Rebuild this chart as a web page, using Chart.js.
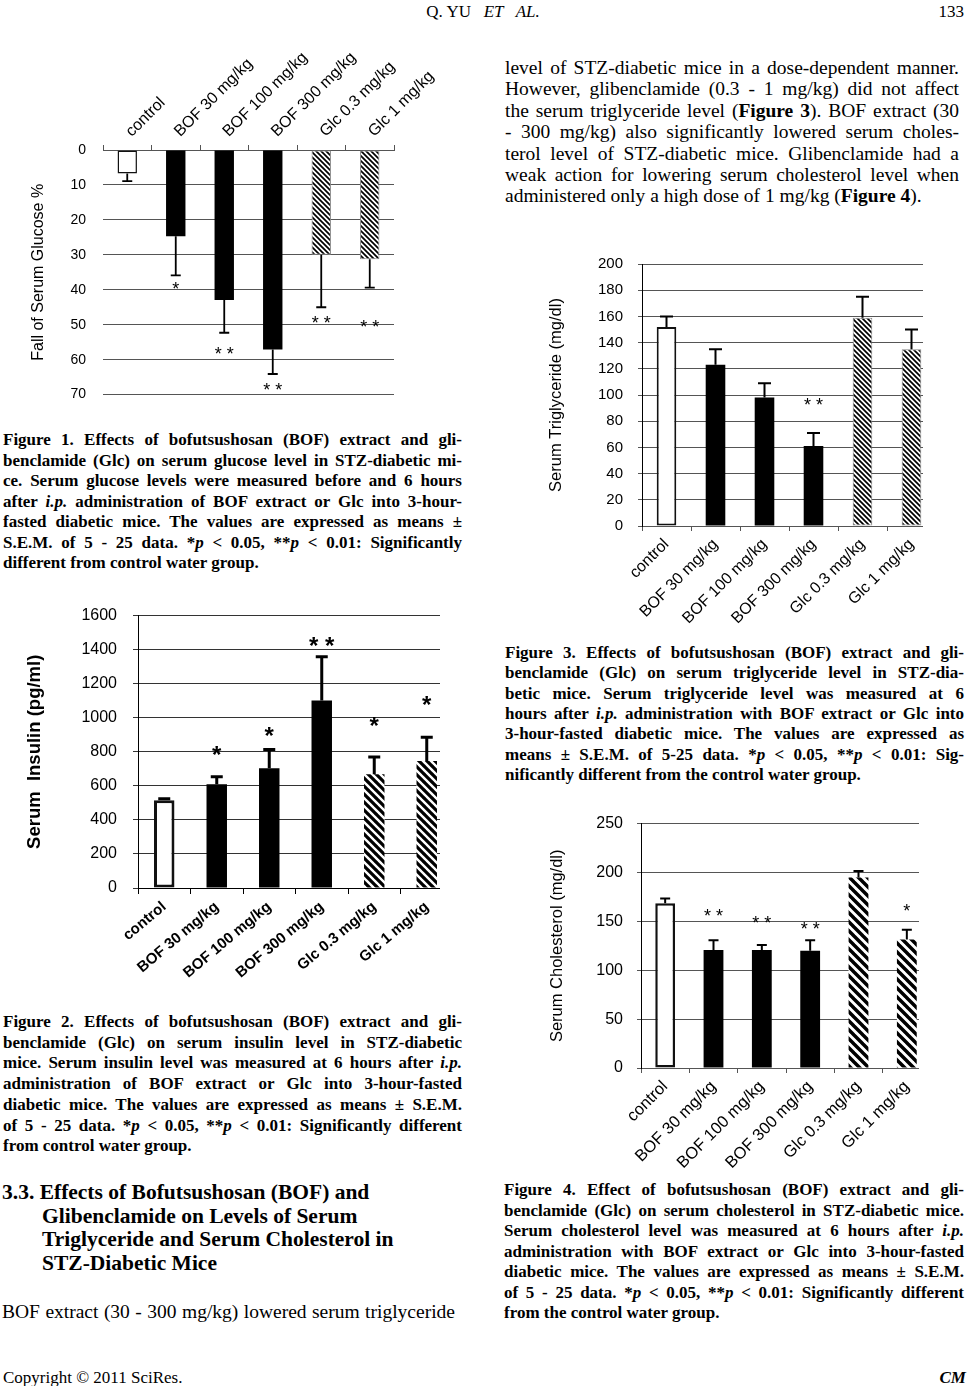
<!DOCTYPE html>
<html>
<head>
<meta charset="utf-8">
<title>BOF figures</title>
<script src="https://cdn.jsdelivr.net/npm/chart.js@4.4.1/dist/chart.umd.min.js"></script>
<style>
  html, body { margin: 0; padding: 0; background: #fff; }
  #page { position: relative; width: 968px; height: 1386px; overflow: hidden; font-family: 'Liberation Serif', 'Times New Roman', serif; color: #000; }
  .ln { position: absolute; white-space: nowrap; }
  .cap { font-size: 17px; font-weight: bold; }
  .txt { font-size: 19.5px; }
  .head { font-size: 21.5px; font-weight: bold; }
  .small { font-size: 17px; }
  .box { position: absolute; overflow: hidden; }
  .box canvas { position: absolute; left: 0; top: 0; }
</style>
</head>
<body>
<div id="page">
  <div class="box" style="left:0;top:40px;width:470px;height:380px"><canvas id="fig1" width="470" height="380"></canvas></div>
  <div class="box" style="left:0;top:590px;width:440px;height:410px"><canvas id="fig2" width="470" height="410"></canvas></div>
  <div class="box" style="left:484px;top:240px;width:439px;height:400px"><canvas id="fig3" width="484" height="400"></canvas></div>
  <div class="box" style="left:484px;top:800px;width:435px;height:380px"><canvas id="fig4" width="484" height="380"></canvas></div>
</div>
<script>
// groups, same for all four figures
const groups = ['control', 'BOF 30 mg/kg', 'BOF 100 mg/kg', 'BOF 300 mg/kg', 'Glc 0.3 mg/kg', 'Glc 1 mg/kg'];

// Figure 1 - fall of serum glucose (%)
const glucoseFall = [6.7, 24.7, 42.9, 57.1, 30.0, 31.3];
const glucoseSem = [2.2, 11.2, 9.4, 7.0, 15.0, 8.1];
const glucoseSig = ['', '*', '* *', '* *', '* *', '* *'];
const glucoseSigAt = [0, 38.6, 57.1, 67.3, 48.3, 49.3];
const glucoseTicks = [0, 10, 20, 30, 40, 50, 60, 70];

// Figure 2 - serum insulin (pg/ml)
const insulin = [515, 609, 703, 1101, 668, 746];
const insulinSem = [9, 44, 111, 257, 101, 139];
const insulinSig = ['', '*', '*', '* *', '*', '*'];
const insulinSigAt = [0, 818, 928, 1458, 983, 1107];
const insulinTicks = [0, 200, 400, 600, 800, 1000, 1200, 1400, 1600];

// Figure 3 - serum triglyceride (mg/dl)
const triglyceride = [152, 123, 98, 61, 159, 135];
const triglycerideSem = [8, 12, 11, 10, 16, 15];
const triglycerideSig = ['', '', '', '* *', '', ''];
const triglycerideSigAt = [0, 0, 0, 96, 0, 0];
const triglycerideTicks = [0, 20, 40, 60, 80, 100, 120, 140, 160, 180, 200];

// Figure 4 - serum cholesterol (mg/dl)
const cholesterol = [168.5, 120.6, 120.6, 120, 194.8, 131.5];
const cholesterolSem = [5, 10.2, 5.2, 10.8, 6.6, 9.8];
const cholesterolSig = ['', '* *', '* *', '* *', '', '*'];
const cholesterolSigAt = [0, 160.3, 153.1, 146.5, 0, 165.3];
const cholesterolTicks = [0, 50, 100, 150, 200, 250];

Chart.defaults.font.family = "'Liberation Sans', Arial, sans-serif";
Chart.defaults.color = '#000';

function hatch(ctx, size, lw) {
  const c = document.createElement('canvas');
  c.width = c.height = size;
  const g = c.getContext('2d');
  g.fillStyle = '#fff';
  g.fillRect(0, 0, size, size);
  g.strokeStyle = '#000';
  g.lineWidth = lw;
  g.beginPath();
  for (const o of [-size, 0, size]) { g.moveTo(o - 1, -1); g.lineTo(o + size + 1, size + 1); }
  g.stroke();
  return ctx.createPattern(c, 'repeat');
}

// error bars (one sided) and significance stars
const errorStars = {
  id: 'errorStars',
  afterDatasetsDraw(chart) {
    const ds = chart.data.datasets[0];
    const y = chart.scales.y;
    const ctx = chart.ctx;
    ctx.save();
    ctx.strokeStyle = '#000';
    ctx.lineWidth = ds.errWidth;
    chart.getDatasetMeta(0).data.forEach((bar, i) => {
      const x = bar.x;
      const y0 = y.getPixelForValue(ds.data[i]);
      const y1 = y.getPixelForValue(ds.data[i] + ds.sem[i]);
      ctx.beginPath();
      ctx.moveTo(x, y0); ctx.lineTo(x, y1);
      ctx.moveTo(x - ds.cap, y1); ctx.lineTo(x + ds.cap, y1);
      ctx.stroke();
      if (ds.sig[i]) {
        ctx.font = ds.sigFont;
        ctx.fillStyle = '#000';
        ctx.textAlign = 'center';
        ctx.textBaseline = 'alphabetic';
        ctx.fillText(ds.sig[i], x, y.getPixelForValue(ds.sigAt[i]) + ds.sigSize * 0.575);
      }
    });
    ctx.restore();
  }
};

function figure(id, o) {
  const canvas = document.getElementById(id);
  const ctx = canvas.getContext('2d');
  const pat = hatch(ctx, o.hatch[0], o.hatch[1]);
  const fills = groups.map((g, i) => i === 0 ? '#fff' : i < 4 ? '#000' : pat);
  const borders = groups.map((g, i) => i === 0 ? '#111' : i < 4 ? '#000' : '#888');
  const widths = groups.map((g, i) => i === 0 ? o.ctrlBorder : i < 4 ? 0 : o.hatchBorder);
  return new Chart(canvas, {
    type: 'bar',
    data: {
      labels: groups,
      datasets: [{
        data: o.values,
        backgroundColor: fills,
        borderColor: borders,
        borderWidth: widths,
        borderSkipped: false,
        barPercentage: o.barPct,
        categoryPercentage: 1,
        sem: o.sem, sig: o.sig, sigAt: o.sigAt,
        sigFont: o.sigFont, sigSize: o.sigSize,
        errWidth: o.errWidth, cap: o.cap
      }]
    },
    options: {
      responsive: false,
      animation: false,
      layout: { padding: o.pad },
      plugins: { legend: { display: false }, tooltip: { enabled: false } },
      scales: {
        x: {
          position: o.xPos,
          grid: { drawOnChartArea: false, tickLength: o.xTick, color: o.axisColor },
          border: { color: o.axisColor },
          ticks: { autoSkip: false, minRotation: o.rot, maxRotation: o.rot, padding: o.xPad, labelOffset: o.xShift || 0, font: o.xFont, color: '#000' },
          afterFit: s => { s.height = o.xH; }
        },
        y: {
          reverse: !!o.reverse,
          min: o.ticks[0],
          max: o.ticks[o.ticks.length - 1],
          afterBuildTicks: s => { s.ticks = o.ticks.map(v => ({ value: v })); },
          grid: { color: o.gridColor, drawTicks: o.yTick > 0, tickLength: o.yTick },
          border: { display: o.yBorder, color: '#000' },
          ticks: { padding: o.yPad, font: o.yFont, color: '#000', callback: v => String(v) },
          title: { display: true, text: o.title, font: o.titleFont, padding: { top: o.titlePad, bottom: 0 }, color: '#000' },
          afterFit: s => { s.width = o.yW; }
        }
      }
    },
    plugins: [errorStars]
  });
}

figure('fig1', {
  values: glucoseFall, sem: glucoseSem, sig: glucoseSig, sigAt: glucoseSigAt, ticks: glucoseTicks,
  reverse: true, xPos: 'top', rot: 45, xTick: 5, xPad: 4, xShift: 15, xH: 110, xFont: { size: 16 },
  yW: 103, yTick: 0, yBorder: false, yPad: 17, yFont: { size: 14 },
  title: 'Fall of Serum Glucose %', titleFont: { size: 16 }, titlePad: 29,
  pad: { left: 0, right: 76, top: 0, bottom: 9 },
  gridColor: '#555', axisColor: '#555', barPct: 0.4,
  hatch: [5, 1.7], ctrlBorder: 1.5, hatchBorder: 1,
  errWidth: 1.8, cap: 5, sigFont: '18px "Liberation Sans", Arial', sigSize: 18
});

figure('fig2', {
  values: insulin, sem: insulinSem, sig: insulinSig, sigAt: insulinSigAt, ticks: insulinTicks,
  xPos: 'bottom', rot: 40, xTick: 6, xPad: 4, xH: 112, xFont: { size: 15, weight: 'bold' },
  yW: 138, yTick: 5, yBorder: true, yPad: 16, yFont: { size: 16 },
  title: 'Serum  Insulin (pg/ml)', titleFont: { size: 18.5, weight: 'bold' }, titlePad: 24,
  pad: { left: 0, right: 17, top: 17, bottom: 0 },
  gridColor: '#333', axisColor: '#000', barPct: 0.39,
  hatch: [8, 3.2], ctrlBorder: 3, hatchBorder: 0,
  errWidth: 3, cap: 6, sigFont: 'bold 24px "Liberation Sans", Arial', sigSize: 24
});

figure('fig3', {
  values: triglyceride, sem: triglycerideSem, sig: triglycerideSig, sigAt: triglycerideSigAt, ticks: triglycerideTicks,
  xPos: 'bottom', rot: 45, xTick: 5, xPad: 4, xH: 114, xFont: { size: 16 },
  yW: 158, yTick: 4, yBorder: true, yPad: 15, yFont: { size: 15 },
  title: 'Serum Triglyceride (mg/dl)', titleFont: { size: 16.5 }, titlePad: 63,
  pad: { left: 0, right: 32, top: 15, bottom: 0 },
  gridColor: '#555', axisColor: '#555', barPct: 0.4,
  hatch: [5, 1.7], ctrlBorder: 2, hatchBorder: 1,
  errWidth: 2, cap: 6.5, sigFont: '18px "Liberation Sans", Arial', sigSize: 18
});

figure('fig4', {
  values: cholesterol, sem: cholesterolSem, sig: cholesterolSig, sigAt: cholesterolSigAt, ticks: cholesterolTicks,
  xPos: 'bottom', rot: 45, xTick: 5, xPad: 4, xH: 112, xFont: { size: 16.5 },
  yW: 157, yTick: 4, yBorder: true, yPad: 14, yFont: { size: 16 },
  title: 'Serum Cholesterol (mg/dl)', titleFont: { size: 16.5 }, titlePad: 64,
  pad: { left: 0, right: 37, top: 14, bottom: 0 },
  gridColor: '#555', axisColor: '#555', barPct: 0.41,
  hatch: [9, 3.5], ctrlBorder: 2.5, hatchBorder: 0,
  errWidth: 2, cap: 5, sigFont: '18px "Liberation Sans", Arial', sigSize: 18
});

// page text
const page = document.getElementById('page');

function block(lines, o) {
  lines.forEach((html, i) => {
    const d = document.createElement('div');
    d.className = 'ln ' + o.cls;
    d.style.left = o.x + 'px';
    d.style.top = (o.y + i * o.dy - o.lh / 2) + 'px';
    d.style.lineHeight = o.lh + 'px';
    d.innerHTML = '<span>' + html + '</span>';
    page.appendChild(d);
    const last = i === lines.length - 1;
    if (o.w && (!last || o.justifyLast)) {
      const sp = d.firstChild;
      const nat = sp.getBoundingClientRect().width;
      const n = (sp.textContent.match(/ /g) || []).length;
      if (n > 0) sp.style.wordSpacing = ((o.w - nat) / n) + 'px';
    }
  });
}

function place(html, cls, x, y, align) {
  const d = document.createElement('div');
  d.className = 'ln ' + cls;
  d.style.top = (y - 10) + 'px';
  d.style.lineHeight = '20px';
  if (align === 'right') { d.style.right = (968 - x) + 'px'; }
  else if (align === 'center') { d.style.left = '0'; d.style.width = (2 * x) + 'px'; d.style.textAlign = 'center'; }
  else { d.style.left = x + 'px'; }
  d.innerHTML = html;
  page.appendChild(d);
}

place('Q. YU &nbsp; <i>ET &nbsp; AL.</i>', 'small', 483, 12, 'center');
place('133', 'small', 964, 12, 'right');
place('Copyright © 2011 SciRes.', 'small', 3, 1378);
place('<b><i>CM</i></b>', 'small', 966, 1378, 'right');

block([
  'level of STZ-diabetic mice in a dose-dependent manner.',
  'However, glibenclamide (0.3 - 1 mg/kg) did not affect',
  'the serum triglyceride level (<b>Figure 3</b>). BOF extract (30',
  '- 300 mg/kg) also significantly lowered serum choles-',
  'terol level of STZ-diabetic mice. Glibenclamide had a',
  'weak action for lowering serum cholesterol level when',
  'administered only a high dose of 1 mg/kg (<b>Figure 4</b>).'
], { cls: 'txt', x: 505, y: 68, dy: 21.4, lh: 22, w: 454 });

block([
  '<b>Figure 1.</b> Effects of bofutsushosan (BOF) extract and gli-',
  'benclamide (Glc) on serum glucose level in STZ-diabetic mi-',
  'ce. Serum glucose levels were measured before and 6 hours',
  'after <i>i.p.</i> administration of BOF extract or Glc into 3-hour-',
  'fasted diabetic mice. The values are expressed as means ±',
  'S.E.M. of 5 - 25 data. *<i>p</i> &lt; 0.05, **<i>p</i> &lt; 0.01: Significantly',
  'different from control water group.'
], { cls: 'cap', x: 3, y: 440, dy: 20.5, lh: 20, w: 459 });

block([
  'Figure 2. Effects of bofutsushosan (BOF) extract and gli-',
  'benclamide (Glc) on serum insulin level in STZ-diabetic',
  'mice. Serum insulin level was measured at 6 hours after <i>i.p.</i>',
  'administration of BOF extract or Glc into 3-hour-fasted',
  'diabetic mice. The values are expressed as means ± S.E.M.',
  'of 5 - 25 data. *<i>p</i> &lt; 0.05, **<i>p</i> &lt; 0.01: Significantly different',
  'from control water group.'
], { cls: 'cap', x: 3, y: 1022, dy: 20.7, lh: 20, w: 459 });

block(['3.3. Effects of Bofutsushosan (BOF) and'], { cls: 'head', x: 2, y: 1192, dy: 23.7, lh: 24 });
block([
  'Glibenclamide on Levels of Serum',
  'Triglyceride and Serum Cholesterol in',
  'STZ-Diabetic Mice'
], { cls: 'head', x: 42, y: 1215.7, dy: 23.7, lh: 24 });

block(['BOF extract (30 - 300 mg/kg) lowered serum triglyceride'],
  { cls: 'txt', x: 2, y: 1312, dy: 21.4, lh: 22, w: 453, justifyLast: true });

block([
  'Figure 3. Effects of bofutsushosan (BOF) extract and gli-',
  'benclamide (Glc) on serum triglyceride level in STZ-dia-',
  'betic mice. Serum triglyceride level was measured at 6',
  'hours after <i>i.p.</i> administration with BOF extract or Glc into',
  '3-hour-fasted diabetic mice. The values are expressed as',
  'means ± S.E.M. of 5-25 data. *<i>p</i> &lt; 0.05, **<i>p</i> &lt; 0.01: Sig-',
  'nificantly different from the control water group.'
], { cls: 'cap', x: 505, y: 653, dy: 20.3, lh: 20, w: 459 });

block([
  'Figure 4. Effect of bofutsushosan (BOF) extract and gli-',
  'benclamide (Glc) on serum cholesterol in STZ-diabetic mice.',
  'Serum cholesterol level was measured at 6 hours after <i>i.p.</i>',
  'administration with BOF extract or Glc into 3-hour-fasted',
  'diabetic mice. The values are expressed as means ± S.E.M.',
  'of 5 - 25 data. *<i>p</i> &lt; 0.05, **<i>p</i> &lt; 0.01: Significantly different',
  'from the control water group.'
], { cls: 'cap', x: 504, y: 1190, dy: 20.5, lh: 20, w: 460 });
</script>
</body>
</html>
